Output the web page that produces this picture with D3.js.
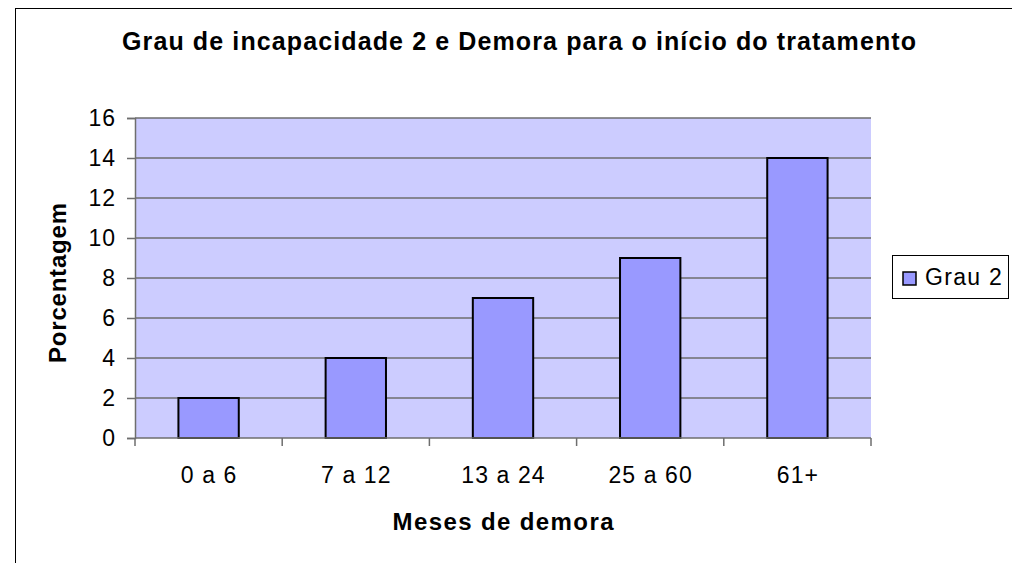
<!DOCTYPE html>
<html>
<head>
<meta charset="utf-8">
<script src="https://cdn.jsdelivr.net/npm/d3@7"></script>
<style>
  body { margin: 0; background: #fff; }
  text { font-family: "Liberation Sans", Arial, sans-serif; fill: #000; }
</style>
</head>
<body>
<svg id="chart" width="1012" height="563"></svg>
<script>
var categories = ["0 a 6", "7 a 12", "13 a 24", "25 a 60", "61+"];
var values = [2, 4, 7, 9, 14];
var yTicks = [0, 2, 4, 6, 8, 10, 12, 14, 16];
var seriesName = "Grau 2";

var svg = d3.select("#chart");

// outer chart frame
svg.append("rect")
	.attr("x", 15.5).attr("y", 8.5)
	.attr("width", 1100).attr("height", 700)
	.attr("fill", "#fff").attr("stroke", "#000").attr("stroke-width", 1);

var pLeft = 135, pTop = 118, pRight = 871, pBottom = 438;

var x = d3.scaleBand().domain(categories).range([pLeft, pRight]).paddingInner(0.59).paddingOuter(0.295);
var xCat = d3.scaleBand().domain(categories).range([pLeft, pRight]);
var y = d3.scaleLinear().domain([0, 16]).range([pBottom, pTop]);

// plot background
svg.append("rect")
	.attr("x", pLeft).attr("y", pTop)
	.attr("width", pRight - pLeft).attr("height", pBottom - pTop)
	.attr("fill", "#ccccff");

// gridlines
svg.append("g").selectAll("line")
	.data(yTicks.slice(1))
	.enter().append("line")
	.attr("x1", pLeft).attr("x2", pRight)
	.attr("y1", function(d) { return y(d); })
	.attr("y2", function(d) { return y(d); })
	.attr("stroke", "#6e6e6e").attr("stroke-width", 1.5);

// bars
svg.append("g").selectAll("rect")
	.data(values)
	.enter().append("rect")
	.attr("x", function(d, i) { return x(categories[i]); })
	.attr("y", function(d) { return y(d); })
	.attr("width", x.bandwidth())
	.attr("height", function(d) { return pBottom - y(d); })
	.attr("fill", "#9999ff")
	.attr("stroke", "#000").attr("stroke-width", 2);

// y axis
var yAxis = d3.axisLeft(y).tickValues(yTicks).tickSize(8).tickPadding(11);
var gy = svg.append("g").attr("transform", "translate(" + pLeft + ",0)").call(yAxis);
gy.attr("font-size", null).attr("font-family", null);
gy.select(".domain").attr("stroke", "#6e6e6e").attr("stroke-width", 1.5);
gy.selectAll(".tick line").attr("stroke", "#6e6e6e").attr("stroke-width", 1.5);
gy.selectAll(".tick text")
	.style("font-size", "23px").style("letter-spacing", "1px")
	.attr("fill", "#000");

// x axis with ticks on category boundaries
var gx = svg.append("g").attr("transform", "translate(0," + pBottom + ")");
gx.append("line").attr("x1", pLeft).attr("x2", pRight).attr("y1", 0).attr("y2", 0)
	.attr("stroke", "#6e6e6e").attr("stroke-width", 1.5);
var bounds = categories.map(function(c) { return xCat(c); }).concat([pRight]);
gx.selectAll("line.tk").data(bounds).enter().append("line")
	.attr("class", "tk")
	.attr("x1", function(d) { return d; }).attr("x2", function(d) { return d; })
	.attr("y1", 0).attr("y2", 8)
	.attr("stroke", "#6e6e6e").attr("stroke-width", 1.5);
gx.selectAll("text").data(categories).enter().append("text")
	.attr("x", function(d) { return xCat(d) + xCat.bandwidth() / 2 + 0.5; })
	.attr("y", 45)
	.attr("text-anchor", "middle")
	.style("font-size", "23px").style("letter-spacing", "1.1px")
	.text(function(d) { return d; });

// title
svg.append("text")
	.attr("x", 519).attr("y", 50)
	.attr("text-anchor", "middle")
	.attr("textLength", 794).attr("lengthAdjust", "spacing")
	.style("font-size", "25px").style("font-weight", "bold")
	.text("Grau de incapacidade 2 e Demora para o início do tratamento");

// axis titles
svg.append("text")
	.attr("x", 503).attr("y", 530)
	.attr("text-anchor", "middle")
	.attr("textLength", 221).attr("lengthAdjust", "spacing")
	.style("font-size", "24px").style("font-weight", "bold")
	.text("Meses de demora");

svg.append("text")
	.attr("transform", "translate(66,283) rotate(-90)")
	.attr("text-anchor", "middle")
	.attr("textLength", 160).attr("lengthAdjust", "spacing")
	.style("font-size", "24px").style("font-weight", "bold")
	.text("Porcentagem");

// legend
var lg = svg.append("g");
lg.append("rect")
	.attr("x", 892.5).attr("y", 255.5).attr("width", 116).attr("height", 43)
	.attr("fill", "#fff").attr("stroke", "#000").attr("stroke-width", 1);
lg.append("rect")
	.attr("x", 903).attr("y", 272).attr("width", 13).attr("height", 13)
	.attr("fill", "#9999ff").attr("stroke", "#000").attr("stroke-width", 1.5);
lg.append("text")
	.attr("x", 925).attr("y", 285)
	.style("font-size", "23px").style("letter-spacing", "1.3px")
	.text(seriesName);
</script>
</body>
</html>
